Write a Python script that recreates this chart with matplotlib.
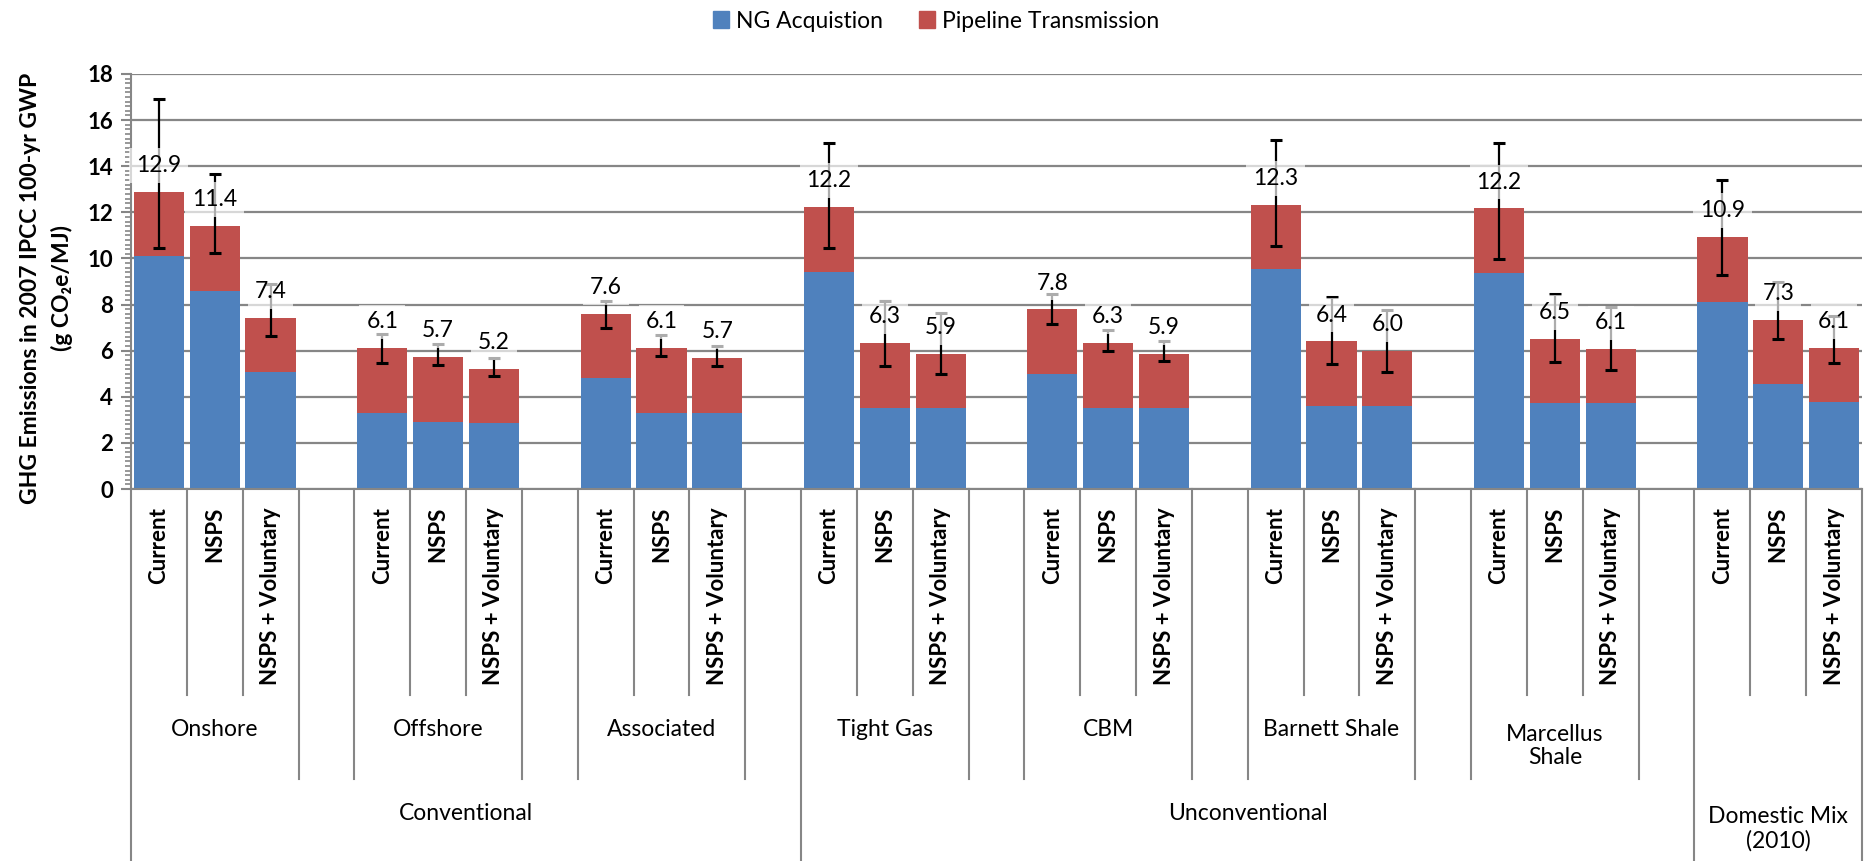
import matplotlib.pyplot as plt
from matplotlib.patches import Patch
from matplotlib.ticker import MultipleLocator
import numpy as np

plt.rcParams['font.family'] = ['Lato', 'DejaVu Sans']

# category levels (innermost first)
scenarios = ['Current', 'NSPS', 'NSPS + Voluntary']
sources = ['Onshore', 'Offshore', 'Associated', 'Tight Gas', 'CBM',
           'Barnett Shale', 'Marcellus\nShale', '']
families = ['Conventional', 'Unconventional', 'Domestic Mix\n(2010)']
family_sizes = [3, 4, 1]

# g CO2e/MJ, one value per source x scenario
ng_acq = [10.09, 8.59, 5.06,
          3.28, 2.92, 2.85,
          4.80, 3.28, 3.28,
          9.42, 3.53, 3.50,
          4.99, 3.53, 3.50,
          9.53, 3.61, 3.61,
          9.35, 3.72, 3.72,
          8.12, 4.55, 3.77]
pipeline = [2.81, 2.81, 2.34,
            2.82, 2.79, 2.34,
            2.79, 2.82, 2.40,
            2.82, 2.79, 2.37,
            2.80, 2.79, 2.37,
            2.79, 2.79, 2.38,
            2.82, 2.80, 2.34,
            2.81, 2.77, 2.34]
err_low = [10.44, 10.22, 6.65,
           5.45, 5.39, 4.91,
           6.97, 5.75, 5.35,
           10.44, 5.33, 4.97,
           7.14, 5.97, 5.56,
           10.54, 5.42, 5.09,
           9.97, 5.52, 5.16,
           9.29, 6.50, 5.45]
err_high = [16.90, 13.67, 8.88,
            6.72, 6.27, 5.69,
            8.15, 6.68, 6.20,
            15.02, 8.17, 7.62,
            8.47, 6.90, 6.43,
            15.13, 8.33, 7.75,
            15.02, 8.46, 7.91,
            13.39, 8.96, 7.50]

BLUE = '#4F81BD'
RED = '#C0504D'
GRID = '#868686'

W, H = 1866, 861
fig = plt.figure(figsize=(W / 100, H / 100), dpi=100)
ax_left, ax_right, ax_top, ax_bot = 131, 1862, 74, 489
ax = fig.add_axes([ax_left / W, 1 - ax_bot / H,
                   (ax_right - ax_left) / W, (ax_bot - ax_top) / H])
ax_h = ax_bot - ax_top


def yfrac(py):
    # pixel row -> axes fraction (for drawing below the plot)
    return (ax_bot - py) / ax_h


# each source takes 3 bar slots plus one empty slot
xpos = np.array([4 * g + j for g in range(len(sources)) for j in range(len(scenarios))])
ng = np.array(ng_acq)
pipe = np.array(pipeline)
total = ng + pipe

ax.bar(xpos, ng, 0.9, color=BLUE, zorder=2)
ax.bar(xpos, pipe, 0.9, bottom=ng, color=RED, zorder=2)
ax.errorbar(xpos, total, yerr=[total - np.array(err_low), np.array(err_high) - total],
            fmt='none', ecolor='black', elinewidth=1.6, capsize=4.3, capthick=2.2, zorder=3)

for x, t in zip(xpos, total):
    ax.annotate(f'{t:.1f}', (x, t), xytext=(0, 19), textcoords='offset points',
                ha='center', va='center', fontsize=16.5, zorder=4,
                bbox=dict(boxstyle='square,pad=0.3', fc='white', ec='none', alpha=0.68))

ax.set_xlim(-0.5, 30.5)
ax.set_ylim(0, 18)
ax.set_yticks(np.arange(0, 19, 2))
ax.yaxis.set_minor_locator(MultipleLocator(0.2))
ax.tick_params(axis='y', which='major', length=7, width=1.5, color=GRID, pad=6, labelsize=16)
ax.tick_params(axis='y', which='minor', length=4, width=1.2, color=GRID)
for lbl in ax.get_yticklabels():
    lbl.set_fontweight('bold')
ax.set_xticks([])
ax.grid(axis='y', which='major', color=GRID, lw=1.6)
ax.set_axisbelow(True)
for s in ['top', 'right']:
    ax.spines[s].set_visible(False)
for s in ['left', 'bottom']:
    ax.spines[s].set_color(GRID)
    ax.spines[s].set_linewidth(1.5)

# multi-level category axis
trans = ax.get_xaxis_transform()
n_slots = 4 * len(sources) - 1
fam_edges = [0]
for n in family_sizes:
    fam_edges.append(min(fam_edges[-1] + 4 * n, n_slots))
src_edges = set()
for g in range(len(sources)):
    src_edges.update([4 * g, min(4 * g + 3, n_slots)])

d1, d2, d3 = yfrac(695), yfrac(779), yfrac(870)
for k in range(n_slots + 1):
    if k in fam_edges:
        depth = d3
    elif k in src_edges:
        depth = d2
    else:
        depth = d1
    ax.plot([k - 0.5, k - 0.5], [0, depth], transform=trans, color=GRID,
            lw=1.5, clip_on=False)

for x, i in zip(xpos, range(len(xpos))):
    ax.text(x, yfrac(507), scenarios[i % 3], transform=trans, rotation=90,
            ha='center', va='top', fontsize=16, fontweight='bold')

line_px = 32
for g, name in enumerate(sources):
    nl = name.count('\n')
    ax.text(4 * g + 1, yfrac(730 + nl * line_px / 2), name, transform=trans,
            ha='center', va='center', fontsize=16.5, linespacing=1.15)

for f, name in enumerate(families):
    nl = name.count('\n')
    cx = (fam_edges[f] + fam_edges[f + 1]) / 2 - 0.5
    ax.text(cx, yfrac(813 + nl * line_px / 2), name, transform=trans,
            ha='center', va='center', fontsize=16.5, linespacing=1.15)

# y axis title, two lines
fig.text(31 / W, 1 - 288 / H, 'GHG Emissions in 2007 IPCC 100-yr GWP', rotation=90,
         ha='center', va='center', fontsize=16.5, fontweight='bold')
fig.text(62 / W, 1 - 288 / H, '(g CO₂e/MJ)', rotation=90,
         ha='center', va='center', fontsize=16.5, fontweight='bold')

handles = [Patch(color=BLUE, label='NG Acquistion'),
           Patch(color=RED, label='Pipeline Transmission')]
fig.legend(handles=handles, loc='center', bbox_to_anchor=(936 / W, 1 - 21 / H),
           ncol=2, frameon=False, fontsize=16.5, handlelength=0.7, handleheight=0.7,
           handletextpad=0.3, columnspacing=1.6)

fig.savefig('out.png', dpi=100)
